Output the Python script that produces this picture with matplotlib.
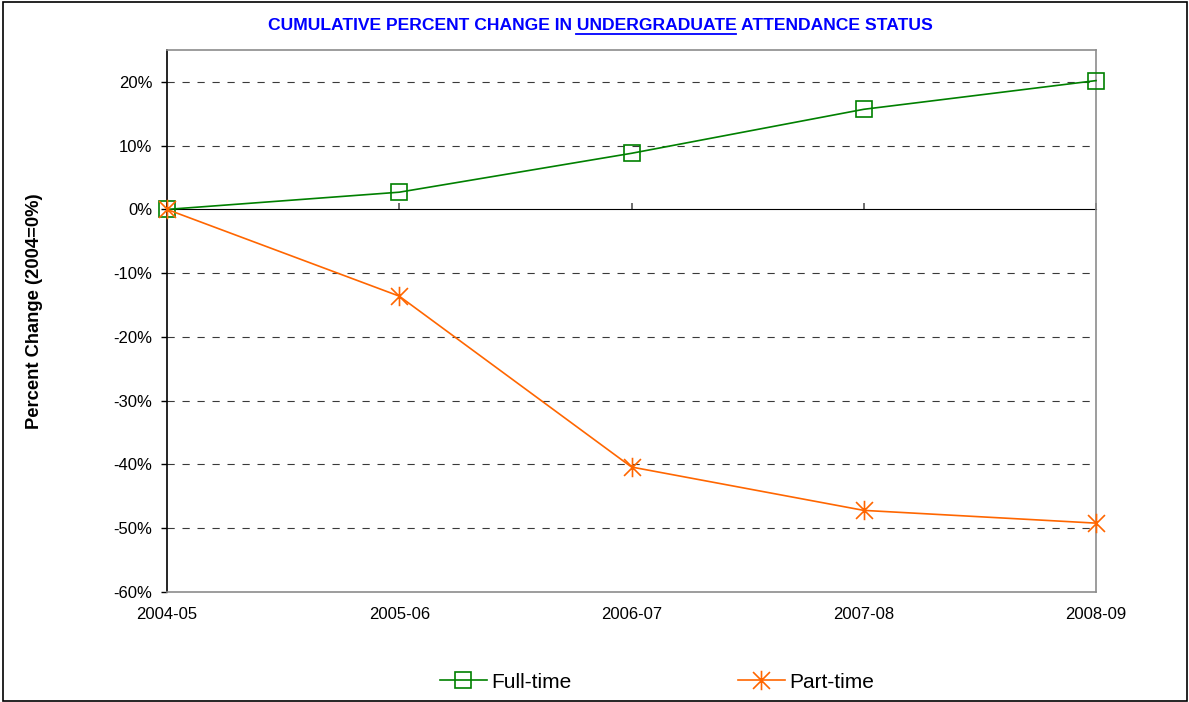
import matplotlib
matplotlib.use("Agg")
import matplotlib.pyplot as plt
from matplotlib.path import Path
from matplotlib.lines import Line2D
from matplotlib.patches import Rectangle
from matplotlib.ticker import FuncFormatter, NullFormatter

# ---- data ----
years = ["2004-05", "2005-06", "2006-07", "2007-08", "2008-09"]
full_time = [0.0, 2.7, 8.8, 15.7, 20.2]
part_time = [0.0, -13.6, -40.4, -47.2, -49.2]
yticks = [-60, -50, -40, -30, -20, -10, 0, 10, 20]

title_pre = "CUMULATIVE PERCENT CHANGE IN "
title_mid = "UNDERGRADUATE"
title_post = " ATTENDANCE STATUS"

plt.rcParams["font.family"] = ["Liberation Sans", "DejaVu Sans"]

W, H = 1189, 702
fig = plt.figure(figsize=(W / 100, H / 100), dpi=100)
fig.patch.set_facecolor("white")
ax = fig.add_axes([167 / W, 1 - 592 / H, (1096 - 167) / W, (592 - 50) / H])

x = list(range(len(years)))

# asterisk marker (X plus vertical line)
ast = Path(
    [(-1, -1), (1, 1), (-1, 1), (1, -1), (0, -1.15), (0, 1.15)],
    [Path.MOVETO, Path.LINETO, Path.MOVETO, Path.LINETO, Path.MOVETO, Path.LINETO],
)

green = "#008000"
orange = "#FF6600"

ax.plot(x, full_time, color=green, lw=1.2, marker="s", markersize=11,
        markerfacecolor="none", markeredgecolor=green, markeredgewidth=1.2,
        clip_on=False, zorder=4, label="Full-time")
ax.plot(x, part_time, color=orange, lw=1.2, marker=ast, markersize=14,
        markeredgecolor=orange, markeredgewidth=1.2,
        clip_on=False, zorder=5, label="Part-time")

ax.set_xlim(0, 4)
ax.set_ylim(-60, 25)
ax.set_yticks(yticks)
ax.yaxis.set_major_formatter(FuncFormatter(lambda v, p: f"{int(v)}%"))
for v in yticks:
    if v not in (0, -60):
        ax.axhline(v, color="#3a3a3a", lw=0.8, ls=(0, (6.5, 7.0)), zorder=1)

ax.set_xticks(x)
ax.set_xticklabels(years)
ax.tick_params(axis="x", length=0, pad=11, labelsize=12)
ax.tick_params(axis="y", direction="out", length=4, width=1, pad=6.5,
               labelsize=12, color="black")

for s in ["top", "right", "bottom"]:
    ax.spines[s].set_color("#8c8c8c")
    ax.spines[s].set_linewidth(1.2)
ax.spines["left"].set_color("black")
ax.spines["left"].set_linewidth(1.2)

# category axis crossing at 0 with tick marks
sec = ax.secondary_xaxis(60 / 85)
sec.set_xticks(x)
sec.xaxis.set_major_formatter(NullFormatter())
sec.tick_params(axis="x", direction="out", length=4, width=1.2,
                labelbottom=False, labeltop=False, color="#555555")
sec.spines["bottom"].set_color("#555555")
sec.spines["bottom"].set_linewidth(1.2)

ax.set_ylabel("Percent Change (2004=0%)", fontsize=13.2, fontweight="bold")
ax.yaxis.set_label_coords((43 - 167) / (1096 - 167), (592 - 311) / (592 - 50))

# title with underlined word
tsize = 12.6
tx, ty = 600 / W, 1 - 25 / H
full_title = title_pre + title_mid + title_post
t = fig.text(tx, ty, full_title, color="#0000FF", fontsize=tsize,
             fontweight="bold", ha="center", va="center")
fig.canvas.draw()
r = fig.canvas.get_renderer()
bb = t.get_window_extent(r)


def tw(s):
    tmp = fig.text(0, 0, s, fontsize=tsize, fontweight="bold")
    w = tmp.get_window_extent(r).width
    tmp.remove()
    return w


start = bb.x0 + tw(title_pre + title_mid) - tw(title_mid)
end = start + tw(title_mid)
uy = bb.y0 - 1
fig.add_artist(Line2D([start / W, end / W], [uy / H, uy / H],
                      color="#0000FF", lw=1.3, transform=fig.transFigure))

# legend
handles, labels = ax.get_legend_handles_labels()
fig.legend(handles, labels, loc="center", bbox_to_anchor=(657 / W, 1 - 682 / H),
           ncol=2, frameon=False, fontsize=15, handlelength=2.25,
           columnspacing=8.0, handletextpad=0.2)

# outer frame
fig.add_artist(Rectangle((3 / W, 1 / H), (1187 - 3) / W, (700 - 1) / H,
                         transform=fig.transFigure, fill=False,
                         edgecolor="black", lw=1.2))

fig.savefig("out.png", dpi=100)
